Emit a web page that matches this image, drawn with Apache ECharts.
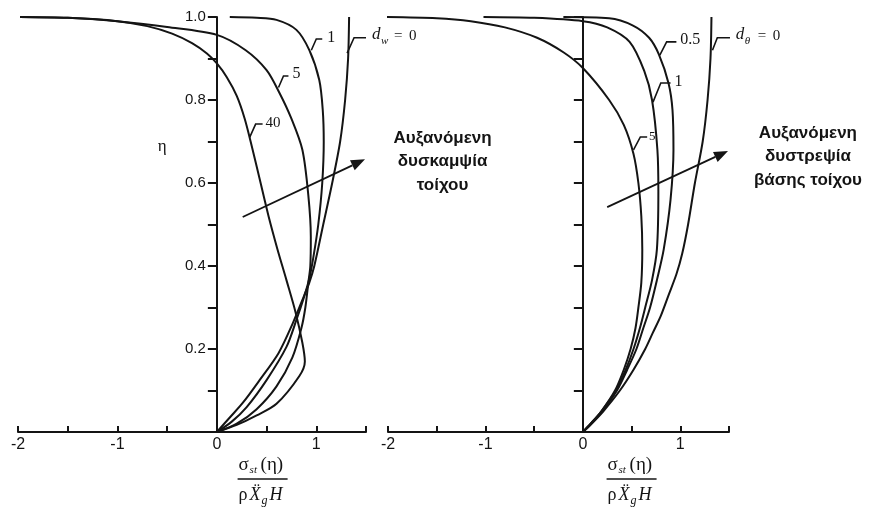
<!DOCTYPE html>
<html>
<head>
<meta charset="utf-8">
<script src="https://cdn.jsdelivr.net/npm/echarts@6/dist/echarts.min.js"></script>
<style>
  html, body { margin: 0; padding: 0; background: #ffffff; }
  #chart { width: 885px; height: 510px; }
</style>
</head>
<body>
<div id="chart"></div>
<script>
// Normalised static stress sigma_st / (rho * Xg'' * H) against height ratio eta.
// Each entry is [stress, eta].

// Left panel: wall flexibility d_w
const wallDw0 = [[1.33,1.0],[1.32,0.9],[1.29,0.8],[1.24,0.7],[1.16,0.6],[1.07,0.5],[0.98,0.4],[0.93,0.36],[0.88,0.33],[0.76,0.26],[0.62,0.19],[0.43,0.125],[0.26,0.07],[0.13,0.035],[0,0]];
const wallDw1 = [[0.13,1.0],[0.4,0.998],[0.6,0.993],[0.8,0.969],[0.93,0.92],[1.03,0.848],[1.065,0.776],[1.075,0.70],[1.06,0.60],[1.02,0.50],[0.97,0.42],[0.93,0.37],[0.87,0.32],[0.80,0.27],[0.70,0.205],[0.5,0.125],[0.3,0.06],[0.15,0.025],[0,0]];
const wallDw5 = [[-1.98,1.0],[-1.5,0.998],[-1.0,0.99],[-0.5,0.976],[0,0.957],[0.29,0.92],[0.5,0.872],[0.63,0.817],[0.75,0.755],[0.86,0.68],[0.92,0.57],[0.945,0.47],[0.94,0.40],[0.92,0.36],[0.89,0.30],[0.85,0.25],[0.76,0.18],[0.6,0.11],[0.4,0.055],[0.2,0.02],[0,0]];
const wallDw40 = [[-1.98,1.0],[-1.5,0.998],[-1.0,0.99],[-0.7,0.978],[-0.45,0.96],[-0.25,0.937],[-0.1,0.912],[0,0.888],[0.1,0.855],[0.2,0.81],[0.28,0.755],[0.35,0.69],[0.43,0.61],[0.52,0.52],[0.61,0.44],[0.70,0.366],[0.79,0.29],[0.86,0.215],[0.885,0.17],[0.83,0.135],[0.6,0.068],[0.4,0.04],[0.2,0.017],[0,0]];

// Right panel: base rotational flexibility d_theta
const baseDt0 = [[1.32,1.0],[1.31,0.9],[1.28,0.8],[1.23,0.7],[1.15,0.6],[1.08,0.5],[1.02,0.43],[0.96,0.38],[0.88,0.33],[0.80,0.28],[0.72,0.24],[0.64,0.20],[0.52,0.15],[0.38,0.10],[0.21,0.05],[0.09,0.02],[0,0]];
const baseDt05 = [[-0.2,1.0],[0.27,0.997],[0.51,0.98],[0.68,0.95],[0.78,0.91],[0.88,0.84],[0.92,0.776],[0.93,0.68],[0.90,0.56],[0.83,0.44],[0.76,0.366],[0.69,0.30],[0.62,0.25],[0.55,0.20],[0.455,0.15],[0.35,0.10],[0.20,0.05],[0.085,0.02],[0,0]];
const baseDt1 = [[-1.02,1.0],[-0.5,0.998],[0,0.99],[0.25,0.975],[0.48,0.94],[0.63,0.87],[0.71,0.80],[0.765,0.68],[0.775,0.58],[0.76,0.44],[0.71,0.366],[0.64,0.30],[0.585,0.25],[0.52,0.20],[0.44,0.15],[0.34,0.10],[0.19,0.05],[0.08,0.02],[0,0]];
const baseDt5 = [[-2.06,1.0],[-1.5,0.997],[-1.15,0.99],[-0.8,0.975],[-0.47,0.95],[-0.2,0.915],[0,0.877],[0.27,0.80],[0.42,0.74],[0.52,0.67],[0.57,0.60],[0.60,0.52],[0.61,0.44],[0.60,0.36],[0.57,0.30],[0.54,0.25],[0.49,0.20],[0.42,0.15],[0.33,0.10],[0.19,0.05],[0.08,0.02],[0,0]];

// Axis ticks
const xTickLabels = ['-2', '-1', '0', '1'];
const yTickLabels = ['0.2', '0.4', '0.6', '0.8', '1.0'];

// Curve tags
const leftTags = ['1', '5', '40'];
const rightTags = ['0.5', '1', '5'];
const leftTitleLines = ['Αυξανόμενη', 'δυσκαμψία', 'τοίχου'];
const rightTitleLines = ['Αυξανόμενη', 'δυστρεψία', 'βάσης τοίχου'];

const INK = '#141414';
const F_SANS = '"Liberation Sans", Arial, sans-serif';
const F_SERIF = '"Liberation Serif", "DejaVu Serif", "Times New Roman", serif';

const X_MIN = -2, X_MAX = 1.5;
const grids = [
  { left: 18, top: 17, width: 348, height: 415 },
  { left: 388, top: 17, width: 341, height: 415 }
];

const chart = echarts.init(document.getElementById('chart'), null, { renderer: 'canvas' });

function makeX(gridIndex) {
  return {
    type: 'value', gridIndex, min: X_MIN, max: X_MAX, interval: 0.5,
    axisLine: { onZero: false, lineStyle: { color: INK, width: 2 } },
    axisTick: { inside: true, length: 6, lineStyle: { color: INK, width: 2 } },
    axisLabel: {
      margin: 5, color: INK, fontSize: 16, fontFamily: F_SANS,
      formatter: v => { const s = String(Math.round(v * 10) / 10); return xTickLabels.includes(s) ? s : ''; }
    },
    splitLine: { show: false }
  };
}
function makeY(gridIndex, labels) {
  // the vertical axis sits on stress = 0
  const shift = grids[gridIndex].width * (0 - X_MIN) / (X_MAX - X_MIN);
  return {
    type: 'value', gridIndex, min: 0, max: 1, interval: 0.1,
    position: 'left', offset: -shift,
    axisLine: { onZero: false, lineStyle: { color: INK, width: 2 } },
    axisTick: { inside: false, length: 9, lineStyle: { color: INK, width: 2 } },
    axisLabel: {
      show: labels, margin: 11, color: INK, fontSize: 15, fontFamily: F_SANS,
      formatter: v => { const s = v.toFixed(1); return yTickLabels.includes(s) ? s : ''; }
    },
    splitLine: { show: false }
  };
}
function curve(data, gridIndex) {
  return {
    type: 'line', data, xAxisIndex: gridIndex, yAxisIndex: gridIndex,
    showSymbol: false, smooth: 0.3, clip: false, silent: true,
    lineStyle: { color: INK, width: 2 }
  };
}

chart.setOption({
  animation: false,
  backgroundColor: '#ffffff',
  grid: grids.map(g => Object.assign({ outerBoundsMode: 'none', containLabel: false }, g)),
  xAxis: [makeX(0), makeX(1)],
  yAxis: [makeY(0, true), makeY(1, false)],
  series: [
    curve(wallDw0, 0), curve(wallDw1, 0), curve(wallDw5, 0), curve(wallDw40, 0),
    curve(baseDt0, 1), curve(baseDt05, 1), curve(baseDt1, 1), curve(baseDt5, 1)
  ]
});

// ---- annotations (placed in data coordinates of each panel) ----
const P = (g, x, y) => chart.convertToPixel({ gridIndex: g }, [x, y]);

function text(x, y, t, font, align, valign) {
  align = align || 'left'; valign = valign || 'middle';
  return { type: 'text', x, y, silent: true,
    style: { text: t, font, fill: INK, textAlign: align, textVerticalAlign: valign, align, verticalAlign: valign } };
}
function leader(g, pts) {
  return { type: 'polyline', silent: true, shape: { points: pts.map(p => P(g, p[0], p[1])) },
    style: { stroke: INK, lineWidth: 1.6, fill: null } };
}
function arrow(g, from, to) {
  const a = P(g, from[0], from[1]), b = P(g, to[0], to[1]);
  const ang = Math.atan2(b[1] - a[1], b[0] - a[0]);
  const L = 14, W = 5.5;
  const bx = b[0] - L * Math.cos(ang), by = b[1] - L * Math.sin(ang);
  const nx = -Math.sin(ang) * W, ny = Math.cos(ang) * W;
  return [
    { type: 'line', silent: true, shape: { x1: a[0], y1: a[1], x2: bx, y2: by }, style: { stroke: INK, lineWidth: 1.8 } },
    { type: 'polygon', silent: true, shape: { points: [[b[0], b[1]], [bx + nx, by + ny], [bx - nx, by - ny]] }, style: { fill: INK } }
  ];
}
function fraction(cx) {
  const yn = 465, yb = 479, yd = 495;
  return [
    text(cx - 24, yn, 'σ', '19px ' + F_SERIF),
    text(cx - 13, yn + 5, 'st', 'italic 11px ' + F_SERIF),
    text(cx - 2, yn, '(η)', '19px ' + F_SERIF),
    { type: 'line', silent: true, shape: { x1: cx - 25, y1: yb, x2: cx + 25, y2: yb }, style: { stroke: INK, lineWidth: 1.5 } },
    text(cx - 24, yd, 'ρ', '18px ' + F_SERIF),
    text(cx - 13, yd, 'X\u0308', 'italic 18px ' + F_SERIF),
    text(cx - 1, yd + 6, 'g', 'italic 12px ' + F_SERIF),
    text(cx + 7, yd, 'H', 'italic 18px ' + F_SERIF)
  ];
}
function zeroTag(g, anchor, sub) {
  const p = P(g, anchor[0], anchor[1]);
  return [
    text(p[0], p[1] - 1, 'd', 'italic 17px ' + F_SERIF),
    text(p[0] + 9, p[1] + 5, sub, 'italic 11px ' + F_SERIF),
    text(p[0] + 22, p[1], '=', '15px ' + F_SERIF),
    text(p[0] + 37, p[1], '0', '15px ' + F_SERIF)
  ];
}
function tag(g, anchor, t, size) {
  const p = P(g, anchor[0], anchor[1]);
  return text(p[0], p[1], t, size + 'px ' + F_SERIF);
}
function block(g, anchor, lines, step) {
  const p = P(g, anchor[0], anchor[1]);
  return lines.map((t, i) => text(p[0], p[1] + i * step, t, 'bold 17px ' + F_SANS, 'center'));
}

const els = [];
// left panel leaders and tags
els.push(leader(0, [[0.95, 0.92], [1.0, 0.947], [1.06, 0.947]]));
els.push(tag(0, [1.11, 0.95], leftTags[0], 16));
els.push(leader(0, [[0.62, 0.83], [0.67, 0.858], [0.72, 0.858]]));
els.push(tag(0, [0.76, 0.862], leftTags[1], 16));
els.push(leader(0, [[0.33, 0.71], [0.39, 0.742], [0.46, 0.742]]));
els.push(tag(0, [0.49, 0.745], leftTags[2], 15));
els.push(leader(0, [[1.31, 0.913], [1.38, 0.95], [1.50, 0.95]]));
els.push(...zeroTag(0, [1.56, 0.955], 'w'));
// right panel leaders and tags
els.push(leader(1, [[0.79, 0.908], [0.86, 0.94], [0.96, 0.94]]));
els.push(tag(1, [1.0, 0.944], rightTags[0], 16));
els.push(leader(1, [[0.72, 0.795], [0.80, 0.841], [0.90, 0.841]]));
els.push(tag(1, [0.94, 0.843], rightTags[1], 16));
els.push(leader(1, [[0.52, 0.68], [0.59, 0.711], [0.66, 0.711]]));
els.push(tag(1, [0.68, 0.713], rightTags[2], 13));
els.push(leader(1, [[1.33, 0.92], [1.38, 0.95], [1.51, 0.95]]));
els.push(...zeroTag(1, [1.57, 0.955], 'θ'));
// arrows
els.push(...arrow(0, [0.26, 0.518], [1.49, 0.657]));
els.push(...arrow(1, [0.25, 0.542], [1.49, 0.677]));
// captions
els.push(...block(0, [2.27, 0.708], leftTitleLines, 23.5));
els.push(...block(1, [2.31, 0.72], rightTitleLines, 23.5));
// eta label
const etaP = P(0, -0.55, 0.687);
els.push(text(etaP[0], etaP[1], 'η', '17px ' + F_SERIF, 'center'));
// x-axis titles
els.push(...fraction(P(0, 0.46, 0)[0]));
els.push(...fraction(P(1, 0.5, 0)[0]));

chart.setOption({ graphic: { elements: els } });
</script>
</body>
</html>
